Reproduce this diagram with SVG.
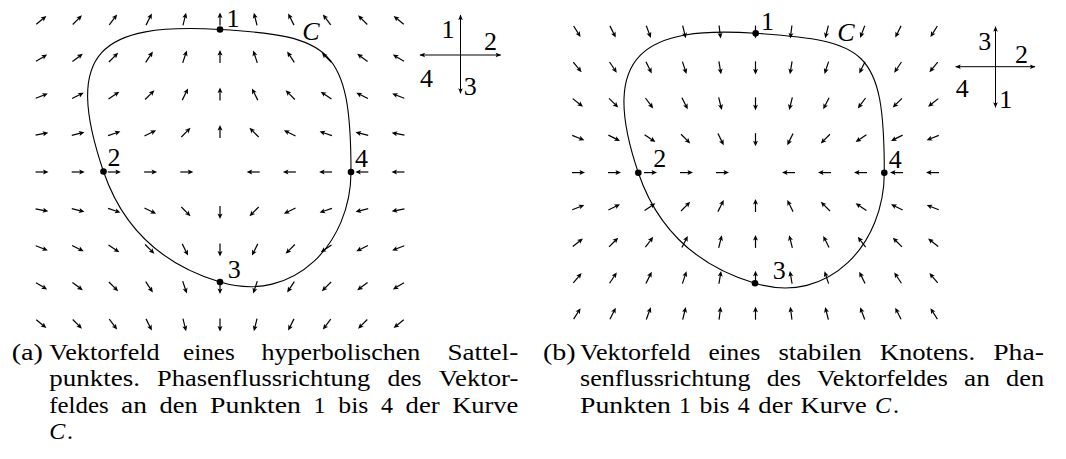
<svg xmlns="http://www.w3.org/2000/svg" width="1066" height="459" viewBox="0 0 1066 459">
<style>
.cap{font-family:'Liberation Serif','Times New Roman',serif;font-size:24px;fill:#000}
.lbl{font-family:'Liberation Serif','Times New Roman',serif;font-size:26px;fill:#000;text-anchor:middle}
.it{font-style:italic}
.curve{fill:none;stroke:#000;stroke-width:1.1}
.leg{stroke:#000;stroke-width:1;marker-end:url(#mh)}
.dot{fill:#000}
</style>
<defs>
<g id="v"><path d="M-3.5,0H5.5" fill="none" stroke="#000" stroke-width="1.2"/><path d="M9.5,0L4,-2.5L5.2,0L4,2.5Z" fill="#000"/></g>
<marker id="mh" markerUnits="userSpaceOnUse" markerWidth="7" markerHeight="6" viewBox="-6 -3 7 6" refX="0" refY="0" orient="auto"><path d="M0.5,0L-5,-2.3L-3.9,0L-5,2.3Z" fill="#000"/></marker>
</defs>

<g id="panel-a">
<g id="field-a">
<use href="#v" transform="translate(39,22) rotate(-38.66)"/><use href="#v" transform="translate(75.2,22) rotate(-45)"/><use href="#v" transform="translate(111.4,22) rotate(-53.13)"/><use href="#v" transform="translate(147.6,22) rotate(-63.43)"/><use href="#v" transform="translate(183.8,22) rotate(-75.96)"/><use href="#v" transform="translate(220,22) rotate(-90)"/><use href="#v" transform="translate(256.2,22) rotate(-104.04)"/><use href="#v" transform="translate(292.4,22) rotate(-116.57)"/><use href="#v" transform="translate(328.6,22) rotate(-126.87)"/><use href="#v" transform="translate(364.8,22) rotate(-135)"/><use href="#v" transform="translate(401,22) rotate(-141.34)"/>
<use href="#v" transform="translate(39,59.5) rotate(-30.96)"/><use href="#v" transform="translate(75.2,59.5) rotate(-36.87)"/><use href="#v" transform="translate(111.4,59.5) rotate(-45)"/><use href="#v" transform="translate(147.6,59.5) rotate(-56.31)"/><use href="#v" transform="translate(183.8,59.5) rotate(-71.57)"/><use href="#v" transform="translate(220,59.5) rotate(-90)"/><use href="#v" transform="translate(256.2,59.5) rotate(-108.43)"/><use href="#v" transform="translate(292.4,59.5) rotate(-123.69)"/><use href="#v" transform="translate(328.6,59.5) rotate(-135)"/><use href="#v" transform="translate(364.8,59.5) rotate(-143.13)"/><use href="#v" transform="translate(401,59.5) rotate(-149.04)"/>
<use href="#v" transform="translate(39,97) rotate(-21.8)"/><use href="#v" transform="translate(75.2,97) rotate(-26.57)"/><use href="#v" transform="translate(111.4,97) rotate(-33.69)"/><use href="#v" transform="translate(147.6,97) rotate(-45)"/><use href="#v" transform="translate(183.8,97) rotate(-63.43)"/><use href="#v" transform="translate(220,97) rotate(-90)"/><use href="#v" transform="translate(256.2,97) rotate(-116.57)"/><use href="#v" transform="translate(292.4,97) rotate(-135)"/><use href="#v" transform="translate(328.6,97) rotate(-146.31)"/><use href="#v" transform="translate(364.8,97) rotate(-153.43)"/><use href="#v" transform="translate(401,97) rotate(-158.2)"/>
<use href="#v" transform="translate(39,134.5) rotate(-11.31)"/><use href="#v" transform="translate(75.2,134.5) rotate(-14.04)"/><use href="#v" transform="translate(111.4,134.5) rotate(-18.43)"/><use href="#v" transform="translate(147.6,134.5) rotate(-26.57)"/><use href="#v" transform="translate(183.8,134.5) rotate(-45)"/><use href="#v" transform="translate(220,134.5) rotate(-90)"/><use href="#v" transform="translate(256.2,134.5) rotate(-135)"/><use href="#v" transform="translate(292.4,134.5) rotate(-153.43)"/><use href="#v" transform="translate(328.6,134.5) rotate(-161.57)"/><use href="#v" transform="translate(364.8,134.5) rotate(-165.96)"/><use href="#v" transform="translate(401,134.5) rotate(-168.69)"/>
<use href="#v" transform="translate(39,172)"/><use href="#v" transform="translate(75.2,172)"/><use href="#v" transform="translate(111.4,172)"/><use href="#v" transform="translate(147.6,172)"/><use href="#v" transform="translate(183.8,172)"/><use href="#v" transform="translate(256.2,172) rotate(180)"/><use href="#v" transform="translate(292.4,172) rotate(180)"/><use href="#v" transform="translate(328.6,172) rotate(180)"/><use href="#v" transform="translate(364.8,172) rotate(180)"/><use href="#v" transform="translate(401,172) rotate(180)"/>
<use href="#v" transform="translate(39,209.5) rotate(11.31)"/><use href="#v" transform="translate(75.2,209.5) rotate(14.04)"/><use href="#v" transform="translate(111.4,209.5) rotate(18.43)"/><use href="#v" transform="translate(147.6,209.5) rotate(26.57)"/><use href="#v" transform="translate(183.8,209.5) rotate(45)"/><use href="#v" transform="translate(220,209.5) rotate(90)"/><use href="#v" transform="translate(256.2,209.5) rotate(135)"/><use href="#v" transform="translate(292.4,209.5) rotate(153.43)"/><use href="#v" transform="translate(328.6,209.5) rotate(161.57)"/><use href="#v" transform="translate(364.8,209.5) rotate(165.96)"/><use href="#v" transform="translate(401,209.5) rotate(168.69)"/>
<use href="#v" transform="translate(39,247) rotate(21.8)"/><use href="#v" transform="translate(75.2,247) rotate(26.57)"/><use href="#v" transform="translate(111.4,247) rotate(33.69)"/><use href="#v" transform="translate(147.6,247) rotate(45)"/><use href="#v" transform="translate(183.8,247) rotate(63.43)"/><use href="#v" transform="translate(220,247) rotate(90)"/><use href="#v" transform="translate(256.2,247) rotate(116.57)"/><use href="#v" transform="translate(292.4,247) rotate(135)"/><use href="#v" transform="translate(328.6,247) rotate(146.31)"/><use href="#v" transform="translate(364.8,247) rotate(153.43)"/><use href="#v" transform="translate(401,247) rotate(158.2)"/>
<use href="#v" transform="translate(39,284.5) rotate(30.96)"/><use href="#v" transform="translate(75.2,284.5) rotate(36.87)"/><use href="#v" transform="translate(111.4,284.5) rotate(45)"/><use href="#v" transform="translate(147.6,284.5) rotate(56.31)"/><use href="#v" transform="translate(183.8,284.5) rotate(71.57)"/><use href="#v" transform="translate(220,284.5) rotate(90)"/><use href="#v" transform="translate(256.2,284.5) rotate(108.43)"/><use href="#v" transform="translate(292.4,284.5) rotate(123.69)"/><use href="#v" transform="translate(328.6,284.5) rotate(135)"/><use href="#v" transform="translate(364.8,284.5) rotate(143.13)"/><use href="#v" transform="translate(401,284.5) rotate(149.04)"/>
<use href="#v" transform="translate(39,322) rotate(38.66)"/><use href="#v" transform="translate(75.2,322) rotate(45)"/><use href="#v" transform="translate(111.4,322) rotate(53.13)"/><use href="#v" transform="translate(147.6,322) rotate(63.43)"/><use href="#v" transform="translate(183.8,322) rotate(75.96)"/><use href="#v" transform="translate(220,322) rotate(90)"/><use href="#v" transform="translate(256.2,322) rotate(104.04)"/><use href="#v" transform="translate(292.4,322) rotate(116.57)"/><use href="#v" transform="translate(328.6,322) rotate(126.87)"/><use href="#v" transform="translate(364.8,322) rotate(135)"/><use href="#v" transform="translate(401,322) rotate(141.34)"/>
</g>
<path id="curve-a" class="curve" d="M220,29.5 C330,35.9 351,47 351,172 C351,242 295,304.5 220,282 C160,264 122.2,226.5 103.5,171.5 C62.7,51.5 100,22.5 220,29.5 Z"/>
<g id="points-a">
<circle class="dot" cx="220" cy="29.5" r="3.3"/><circle class="dot" cx="103.5" cy="171.5" r="3.3"/><circle class="dot" cx="220" cy="282" r="3.3"/><circle class="dot" cx="351" cy="172" r="3.3"/>
<text class="lbl" x="233" y="26.7">1</text><text class="lbl" x="114" y="165.7">2</text><text class="lbl" x="234.3" y="278">3</text><text class="lbl" x="361.5" y="166.7">4</text>
<text class="lbl it" x="311" y="39.5">C</text>
</g>
<g id="legend-a">
<line class="leg" x1="460.5" y1="55" x2="460.5" y2="15"/><line class="leg" x1="460.5" y1="55" x2="500.7" y2="55"/><line class="leg" x1="460.5" y1="55" x2="460.5" y2="93.3"/><line class="leg" x1="460.5" y1="55" x2="420" y2="55"/>
<text class="lbl" x="448" y="38.3">1</text><text class="lbl" x="490.5" y="50">2</text><text class="lbl" x="470.3" y="95">3</text><text class="lbl" x="426.5" y="86.7">4</text>
</g>
<g id="caption-a">
<text class="cap" x="11.7" y="360" textLength="31.3" lengthAdjust="spacingAndGlyphs">(a)</text>
<text class="cap" x="49.3" y="360" textLength="110.3" lengthAdjust="spacingAndGlyphs">Vektorfeld</text>
<text class="cap" x="183" y="360" textLength="51.9" lengthAdjust="spacingAndGlyphs">eines</text>
<text class="cap" x="261.5" y="360" textLength="158.8" lengthAdjust="spacingAndGlyphs">hyperbolischen</text>
<text class="cap" x="447.4" y="360" textLength="70.8" lengthAdjust="spacingAndGlyphs">Sattel-</text>
<text class="cap" x="49.3" y="386.3" textLength="90.7" lengthAdjust="spacingAndGlyphs">punktes.</text>
<text class="cap" x="157.1" y="386.3" textLength="213.2" lengthAdjust="spacingAndGlyphs">Phasenflussrichtung</text>
<text class="cap" x="387.4" y="386.3" textLength="34.2" lengthAdjust="spacingAndGlyphs">des</text>
<text class="cap" x="438.7" y="386.3" textLength="79.7" lengthAdjust="spacingAndGlyphs">Vektor-</text>
<text class="cap" x="49.3" y="412.6" textLength="59.3" lengthAdjust="spacingAndGlyphs">feldes</text>
<text class="cap" x="121.1" y="412.6" textLength="25.9" lengthAdjust="spacingAndGlyphs">an</text>
<text class="cap" x="159.5" y="412.6" textLength="38.1" lengthAdjust="spacingAndGlyphs">den</text>
<text class="cap" x="210.1" y="412.6" textLength="90.9" lengthAdjust="spacingAndGlyphs">Punkten</text>
<text class="cap" x="313.5" y="412.6">1</text>
<text class="cap" x="338.3" y="412.6" textLength="30.1" lengthAdjust="spacingAndGlyphs">bis</text>
<text class="cap" x="380.9" y="412.6">4</text>
<text class="cap" x="405.6" y="412.6" textLength="34.1" lengthAdjust="spacingAndGlyphs">der</text>
<text class="cap" x="452.2" y="412.6" textLength="66.1" lengthAdjust="spacingAndGlyphs">Kurve</text>
<text class="cap it" x="49.3" y="438.9">C</text><text class="cap" x="67" y="438.9">.</text>
</g>
</g>

<g id="panel-b">
<g id="field-b">
<use href="#v" transform="translate(575.5,29) rotate(57.99)"/><use href="#v" transform="translate(611.5,29) rotate(63.43)"/><use href="#v" transform="translate(647.5,29) rotate(69.44)"/><use href="#v" transform="translate(683.5,29) rotate(75.96)"/><use href="#v" transform="translate(719.5,29) rotate(82.87)"/><use href="#v" transform="translate(755.5,29) rotate(90)"/><use href="#v" transform="translate(791.5,29) rotate(97.13)"/><use href="#v" transform="translate(827.5,29) rotate(104.04)"/><use href="#v" transform="translate(863.5,29) rotate(110.56)"/><use href="#v" transform="translate(899.5,29) rotate(116.57)"/><use href="#v" transform="translate(935.5,29) rotate(122.01)"/>
<use href="#v" transform="translate(575.5,64.9) rotate(50.19)"/><use href="#v" transform="translate(611.5,64.9) rotate(56.31)"/><use href="#v" transform="translate(647.5,64.9) rotate(63.43)"/><use href="#v" transform="translate(683.5,64.9) rotate(71.57)"/><use href="#v" transform="translate(719.5,64.9) rotate(80.54)"/><use href="#v" transform="translate(755.5,64.9) rotate(90)"/><use href="#v" transform="translate(791.5,64.9) rotate(99.46)"/><use href="#v" transform="translate(827.5,64.9) rotate(108.43)"/><use href="#v" transform="translate(863.5,64.9) rotate(116.57)"/><use href="#v" transform="translate(899.5,64.9) rotate(123.69)"/><use href="#v" transform="translate(935.5,64.9) rotate(129.81)"/>
<use href="#v" transform="translate(575.5,100.8) rotate(38.66)"/><use href="#v" transform="translate(611.5,100.8) rotate(45)"/><use href="#v" transform="translate(647.5,100.8) rotate(53.13)"/><use href="#v" transform="translate(683.5,100.8) rotate(63.43)"/><use href="#v" transform="translate(719.5,100.8) rotate(75.96)"/><use href="#v" transform="translate(755.5,100.8) rotate(90)"/><use href="#v" transform="translate(791.5,100.8) rotate(104.04)"/><use href="#v" transform="translate(827.5,100.8) rotate(116.57)"/><use href="#v" transform="translate(863.5,100.8) rotate(126.87)"/><use href="#v" transform="translate(899.5,100.8) rotate(135)"/><use href="#v" transform="translate(935.5,100.8) rotate(141.34)"/>
<use href="#v" transform="translate(575.5,136.7) rotate(21.8)"/><use href="#v" transform="translate(611.5,136.7) rotate(26.57)"/><use href="#v" transform="translate(647.5,136.7) rotate(33.69)"/><use href="#v" transform="translate(683.5,136.7) rotate(45)"/><use href="#v" transform="translate(719.5,136.7) rotate(63.43)"/><use href="#v" transform="translate(755.5,136.7) rotate(90)"/><use href="#v" transform="translate(791.5,136.7) rotate(116.57)"/><use href="#v" transform="translate(827.5,136.7) rotate(135)"/><use href="#v" transform="translate(863.5,136.7) rotate(146.31)"/><use href="#v" transform="translate(899.5,136.7) rotate(153.43)"/><use href="#v" transform="translate(935.5,136.7) rotate(158.2)"/>
<use href="#v" transform="translate(575.5,172.6)"/><use href="#v" transform="translate(611.5,172.6)"/><use href="#v" transform="translate(647.5,172.6)"/><use href="#v" transform="translate(683.5,172.6)"/><use href="#v" transform="translate(719.5,172.6)"/><use href="#v" transform="translate(791.5,172.6) rotate(180)"/><use href="#v" transform="translate(827.5,172.6) rotate(180)"/><use href="#v" transform="translate(863.5,172.6) rotate(180)"/><use href="#v" transform="translate(899.5,172.6) rotate(180)"/><use href="#v" transform="translate(935.5,172.6) rotate(180)"/>
<use href="#v" transform="translate(575.5,208.5) rotate(-21.8)"/><use href="#v" transform="translate(611.5,208.5) rotate(-26.57)"/><use href="#v" transform="translate(647.5,208.5) rotate(-33.69)"/><use href="#v" transform="translate(683.5,208.5) rotate(-45)"/><use href="#v" transform="translate(719.5,208.5) rotate(-63.43)"/><use href="#v" transform="translate(755.5,208.5) rotate(-90)"/><use href="#v" transform="translate(791.5,208.5) rotate(-116.57)"/><use href="#v" transform="translate(827.5,208.5) rotate(-135)"/><use href="#v" transform="translate(863.5,208.5) rotate(-146.31)"/><use href="#v" transform="translate(899.5,208.5) rotate(-153.43)"/><use href="#v" transform="translate(935.5,208.5) rotate(-158.2)"/>
<use href="#v" transform="translate(575.5,244.4) rotate(-38.66)"/><use href="#v" transform="translate(611.5,244.4) rotate(-45)"/><use href="#v" transform="translate(647.5,244.4) rotate(-53.13)"/><use href="#v" transform="translate(683.5,244.4) rotate(-63.43)"/><use href="#v" transform="translate(719.5,244.4) rotate(-75.96)"/><use href="#v" transform="translate(755.5,244.4) rotate(-90)"/><use href="#v" transform="translate(791.5,244.4) rotate(-104.04)"/><use href="#v" transform="translate(827.5,244.4) rotate(-116.57)"/><use href="#v" transform="translate(863.5,244.4) rotate(-126.87)"/><use href="#v" transform="translate(899.5,244.4) rotate(-135)"/><use href="#v" transform="translate(935.5,244.4) rotate(-141.34)"/>
<use href="#v" transform="translate(575.5,280.3) rotate(-50.19)"/><use href="#v" transform="translate(611.5,280.3) rotate(-56.31)"/><use href="#v" transform="translate(647.5,280.3) rotate(-63.43)"/><use href="#v" transform="translate(683.5,280.3) rotate(-71.57)"/><use href="#v" transform="translate(719.5,280.3) rotate(-80.54)"/><use href="#v" transform="translate(755.5,280.3) rotate(-90)"/><use href="#v" transform="translate(791.5,280.3) rotate(-99.46)"/><use href="#v" transform="translate(827.5,280.3) rotate(-108.43)"/><use href="#v" transform="translate(863.5,280.3) rotate(-116.57)"/><use href="#v" transform="translate(899.5,280.3) rotate(-123.69)"/><use href="#v" transform="translate(935.5,280.3) rotate(-129.81)"/>
<use href="#v" transform="translate(575.5,316.2) rotate(-57.99)"/><use href="#v" transform="translate(611.5,316.2) rotate(-63.43)"/><use href="#v" transform="translate(647.5,316.2) rotate(-69.44)"/><use href="#v" transform="translate(683.5,316.2) rotate(-75.96)"/><use href="#v" transform="translate(719.5,316.2) rotate(-82.87)"/><use href="#v" transform="translate(755.5,316.2) rotate(-90)"/><use href="#v" transform="translate(791.5,316.2) rotate(-97.13)"/><use href="#v" transform="translate(827.5,316.2) rotate(-104.04)"/><use href="#v" transform="translate(863.5,316.2) rotate(-110.56)"/><use href="#v" transform="translate(899.5,316.2) rotate(-116.57)"/><use href="#v" transform="translate(935.5,316.2) rotate(-122.01)"/>
</g>
<path id="curve-b" class="curve" d="M755.7,33.3 C865.7,41 884.3,47.7 884.3,172.7 C884.3,242.7 830,305.8 755,283.3 C695,265.3 657,227.7 638.3,172.7 C597.5,52.7 645.7,25.6 755.7,33.3 Z"/>
<g id="points-b">
<circle class="dot" cx="755.7" cy="33.3" r="3.3"/><circle class="dot" cx="638.3" cy="172.7" r="3.3"/><circle class="dot" cx="755" cy="283.3" r="3.3"/><circle class="dot" cx="884.3" cy="172.7" r="3.3"/>
<text class="lbl" x="767.5" y="30">1</text><text class="lbl" x="659.7" y="166.7">2</text><text class="lbl" x="779.3" y="279.3">3</text><text class="lbl" x="895.3" y="168.3">4</text>
<text class="lbl it" x="846" y="41">C</text>
</g>
<g id="legend-b">
<line class="leg" x1="995.5" y1="66.7" x2="995.5" y2="26.7"/><line class="leg" x1="995.5" y1="66.7" x2="1035" y2="66.7"/><line class="leg" x1="995.5" y1="66.7" x2="995.5" y2="107.3"/><line class="leg" x1="995.5" y1="66.7" x2="955.7" y2="66.7"/>
<text class="lbl" x="984.8" y="50">3</text><text class="lbl" x="1021.5" y="63">2</text><text class="lbl" x="1005.8" y="108">1</text><text class="lbl" x="962.3" y="96.7">4</text>
</g>
<g id="caption-b">
<text class="cap" x="543" y="360" textLength="32.7" lengthAdjust="spacingAndGlyphs">(b)</text>
<text class="cap" x="580" y="360" textLength="110.3" lengthAdjust="spacingAndGlyphs">Vektorfeld</text>
<text class="cap" x="708.4" y="360" textLength="51.9" lengthAdjust="spacingAndGlyphs">eines</text>
<text class="cap" x="778.4" y="360" textLength="83.2" lengthAdjust="spacingAndGlyphs">stabilen</text>
<text class="cap" x="879.7" y="360" textLength="95.4" lengthAdjust="spacingAndGlyphs">Knotens.</text>
<text class="cap" x="993.2" y="360" textLength="50.7" lengthAdjust="spacingAndGlyphs">Pha-</text>
<text class="cap" x="580" y="386.3" textLength="170.6" lengthAdjust="spacingAndGlyphs">senflussrichtung</text>
<text class="cap" x="766.7" y="386.3" textLength="34.2" lengthAdjust="spacingAndGlyphs">des</text>
<text class="cap" x="817" y="386.3" textLength="130.9" lengthAdjust="spacingAndGlyphs">Vektorfeldes</text>
<text class="cap" x="964" y="386.3" textLength="25.9" lengthAdjust="spacingAndGlyphs">an</text>
<text class="cap" x="1006" y="386.3" textLength="38.1" lengthAdjust="spacingAndGlyphs">den</text>
<text class="cap" x="580" y="412.6" textLength="90.9" lengthAdjust="spacingAndGlyphs">Punkten</text>
<text class="cap" x="679.1" y="412.6">1</text>
<text class="cap" x="699.5" y="412.6" textLength="30.1" lengthAdjust="spacingAndGlyphs">bis</text>
<text class="cap" x="737.8" y="412.6">4</text>
<text class="cap" x="758.3" y="412.6" textLength="34.1" lengthAdjust="spacingAndGlyphs">der</text>
<text class="cap" x="800.6" y="412.6" textLength="66.1" lengthAdjust="spacingAndGlyphs">Kurve</text>
<text class="cap it" x="874.9" y="412.6">C</text><text class="cap" x="893" y="412.6">.</text>
</g>
</g>
</svg>
